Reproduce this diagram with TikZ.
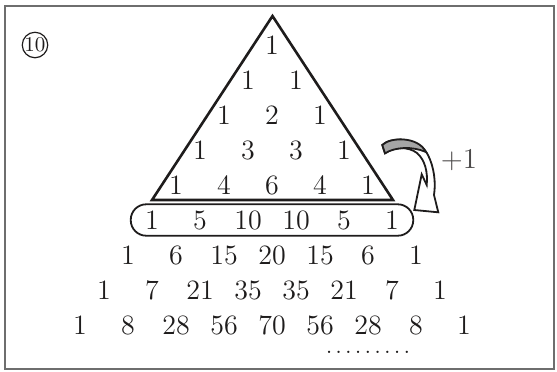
\documentclass[tikz,border=0pt]{standalone}
\usepackage{tikz}
\usetikzlibrary{fit}
\definecolor{inkdark}{RGB}{30, 28, 28}
\definecolor{framegray}{RGB}{110, 110, 110}
\definecolor{ribbongray}{RGB}{165, 165, 165}
\tikzset{
  num/.style={inner sep=0pt,text=inkdark,font=\fontsize{14}{16}\selectfont},
  rowbox/.style={draw=inkdark,line width=0.9pt,rounded corners=7.75pt,
                 inner xsep=7pt,inner ysep=3pt},
  tri/.style={draw=inkdark,line width=1.3pt,line join=miter},
  ribbon/.style={draw=inkdark,line width=0.9pt,fill=white,line join=miter},
}

\begin{document}
\begin{tikzpicture}[x=0.5pt,y=-0.5pt]
        \useasboundingbox (0,0) rectangle (557,371);
        \draw[framegray,line width=0.8pt] (5,6) rectangle (554,369);
        \node[num,draw=inkdark,circle,line width=0.6pt,minimum size=12.5pt,
              font=\fontsize{10.5}{11}\selectfont] (tag) at (35,45) {10};
        % rows of the triangle
        \foreach \row [count=\r from 0] in {{1},{1,1},{1,2,1},{1,3,3,1},{1,4,6,4,1},
            {1,5,10,10,5,1},{1,6,15,20,15,6,1},{1,7,21,35,35,21,7,1},
            {1,8,28,56,70,56,28,8,1}}
          \foreach \v [count=\k from 0] in \row
            \node[num] (p\r-\k) at ({272+24*(2*\k-\r)},{45+35*\r}) {\v};
        \draw[tri] (272.5,16) -- (393,200) -- (152,200) -- cycle;
        \node[rowbox,fit=(p5-0)(p5-5)] (box) {};
        % curved arrow
        \draw[ribbon] (382.3,145) .. controls (390,137) and (418,136) .. (428,155)
              .. controls (434,167) and (436,182) .. (434,195)
              -- (438.3,212.3) -- (414.3,210) -- (421.7,174.3) -- (426.7,185)
              .. controls (428,172) and (425,160) .. (417,153)
              .. controls (408,146) and (393,147) .. (385,153.3) -- cycle;
        \filldraw[fill=ribbongray,draw=inkdark,line width=0.9pt]
              (382.3,145) .. controls (390,137) and (418,136) .. (426,152)
              .. controls (412,146) and (395,147) .. (385,153.3) -- cycle;
        \node[num,text=inkdark!80] (plus) at (459,160) {$+1$};
        \node[num,font=\fontsize{10.5}{11}\selectfont,text height=1pt,text depth=0pt]
              (dots) at (368,352) {$\ldots\ldots\ldots$};
      \end{tikzpicture}
\end{document}
